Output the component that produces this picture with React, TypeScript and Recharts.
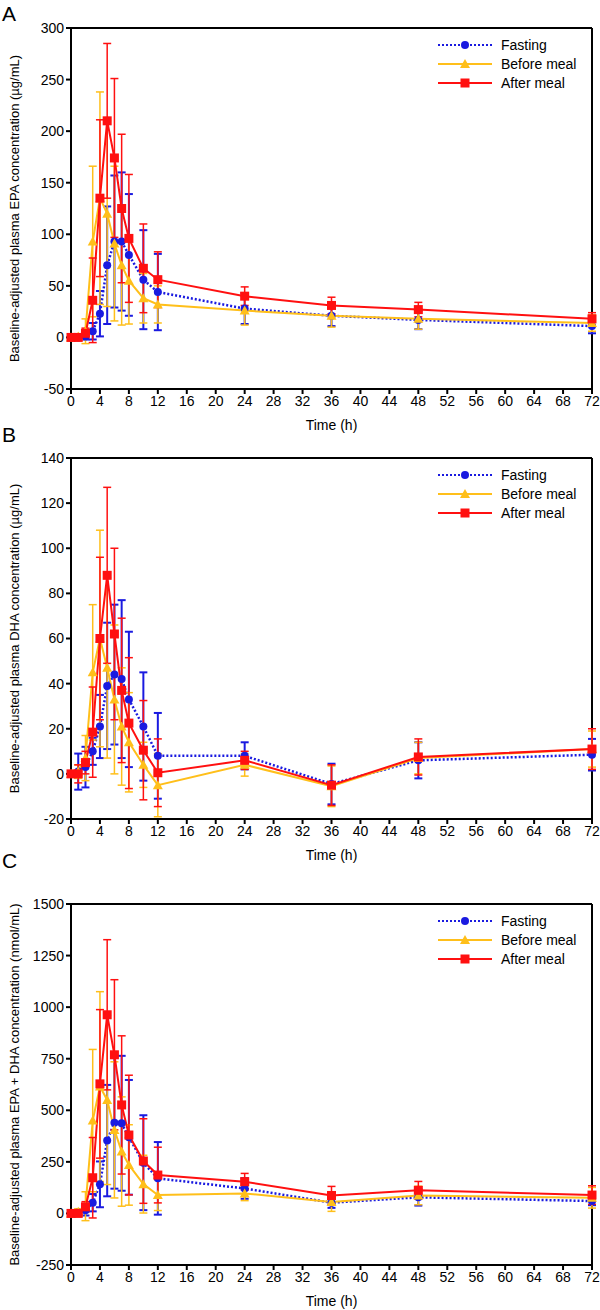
import React from "react";
import { LineChart, Line, XAxis, YAxis, ErrorBar, ReferenceLine, Label } from "recharts";

const times = [0, 1, 2, 3, 4, 5, 6, 7, 8, 10, 12, 24, 36, 48, 72];
const timeTicks = [0, 4, 8, 12, 16, 20, 24, 28, 32, 36, 40, 44, 48, 52, 56, 60, 64, 68, 72];

// A: EPA (µg/mL), mean and SD
const epaFasting = [0, 0, 1, 6, 23, 70, 93, 93, 80, 56, 44, 28, 21, 17, 11];
const epaFastingSd = [1, 1, 3, 8, 22, 57, 64, 67, 59, 48, 37, 15, 10, 9, 7];
const epaBefore = [0, 1, 6, 93, 135, 120, 91, 70, 55, 38, 32, 26, 21, 18, 14];
const epaBeforeSd = [1, 2, 12, 73, 103, 90, 75, 58, 42, 24, 18, 14, 11, 10, 8];
const epaAfter = [0, 0, 4, 36, 135, 210, 174, 125, 96, 67, 56, 40, 31, 27, 18];
const epaAfterSd = [1, 1, 5, 41, 76, 75, 77, 72, 62, 43, 27, 9, 8, 7, 6];
const epaTicks = [-50, 0, 50, 100, 150, 200, 250, 300];

// B: DHA (µg/mL)
const dhaFasting = [0, 1, 3, 10, 21, 39, 44, 42, 33, 21, 8, 8, -4.5, 6, 8.5];
const dhaFastingSd = [1, 8, 9, 6, 14, 28, 31, 35, 30, 24, 19, 6, 9, 8, 7];
const dhaBefore = [0, 1, 7, 45, 60, 47, 33, 21, 14, 4, -5, 4, -5.5, 7, 11];
const dhaBeforeSd = [1, 3, 10, 30, 48, 40, 33, 26, 22, 10, 14, 5, 9, 7, 8];
const dhaAfter = [0, 0, 5, 18.5, 60, 88, 62, 37, 22.5, 10.5, 0.5, 6, -5, 7.5, 11];
const dhaAfterSd = [1, 4, 5, 20, 36, 39, 38, 32, 29, 22, 15, 4, 9, 8, 9];
const dhaTicks = [-20, 0, 20, 40, 60, 80, 100, 120, 140];

// C: EPA + DHA (nmol/mL)
const sumFasting = [0, 5, 15, 52, 141, 353, 440, 437, 369, 246, 170, 121, 52, 78, 60];
const sumFastingSd = [5, 10, 25, 42, 111, 270, 320, 327, 278, 230, 176, 50, 25, 40, 20];
const sumBefore = [0, 8, 35, 450, 615, 550, 405, 300, 235, 142, 89, 97, 55, 87, 76];
const sumBeforeSd = [5, 15, 70, 345, 460, 410, 330, 265, 195, 140, 75, 35, 45, 45, 50];
const sumAfter = [0, 0, 32, 173, 628, 963, 769, 526, 380, 254, 186, 154, 87, 112, 89];
const sumAfterSd = [5, 5, 25, 195, 360, 364, 364, 335, 290, 205, 135, 40, 44, 43, 45];
const sumTicks = [-250, 0, 250, 500, 750, 1000, 1250, 1500];

const BLUE = "#1a1ae0";
const YELLOW = "#ffbf1a";
const RED = "#ff1010";
const FONT = '"Liberation Sans", Arial, sans-serif';

function CircleDot(props: any) {
  const { cx, cy, index } = props;
  if (cx == null || cy == null) return null;
  return <circle key={`c${index}`} cx={cx} cy={cy} r={4} fill={BLUE} />;
}

function TriangleDot(props: any) {
  const { cx, cy, index } = props;
  if (cx == null || cy == null) return null;
  return (
    <path
      key={`t${index}`}
      d={`M${cx},${cy - 5} L${cx + 5},${cy + 4} L${cx - 5},${cy + 4} Z`}
      fill={YELLOW}
    />
  );
}

function SquareDot(props: any) {
  const { cx, cy, index } = props;
  if (cx == null || cy == null) return null;
  return <rect key={`s${index}`} x={cx - 4.5} y={cy - 4.5} width={9} height={9} fill={RED} />;
}

function ChartLegend({ top }: { top: number }) {
  const items = [
    { label: "Fasting", color: BLUE, dash: "2 2", mark: "circle" },
    { label: "Before meal", color: YELLOW, dash: undefined, mark: "triangle" },
    { label: "After meal", color: RED, dash: undefined, mark: "square" },
  ];
  return (
    <div style={{ position: "absolute", left: 438, top, fontSize: 14, fontFamily: FONT }}>
      {items.map((it) => (
        <div key={it.label} style={{ display: "flex", alignItems: "center", height: 19 }}>
          <svg width={54} height={12}>
            <line x1={0} y1={6} x2={54} y2={6} stroke={it.color} strokeWidth={2} strokeDasharray={it.dash} />
            {it.mark === "circle" && <circle cx={27} cy={6} r={4} fill={it.color} />}
            {it.mark === "triangle" && <path d="M27,1 L32,10 L22,10 Z" fill={it.color} />}
            {it.mark === "square" && <rect x={22.5} y={1.5} width={9} height={9} fill={it.color} />}
          </svg>
          <span style={{ marginLeft: 9 }}>{it.label}</span>
        </div>
      ))}
    </div>
  );
}

type PanelProps = {
  top: number;
  letter: string;
  letterTop: number;
  yLabel: string;
  yTicks: number[];
  fasting: number[];
  fastingSd: number[];
  before: number[];
  beforeSd: number[];
  after: number[];
  afterSd: number[];
};

function Panel(p: PanelProps) {
  const data = times.map((t, i) => ({
    t,
    f: p.fasting[i],
    fSd: p.fastingSd[i],
    b: p.before[i],
    bSd: p.beforeSd[i],
    a: p.after[i],
    aSd: p.afterSd[i],
  }));
  const yMin = p.yTicks[0];
  const yMax = p.yTicks[p.yTicks.length - 1];
  const axisProps = { stroke: "#000", strokeWidth: 2 };

  return (
    <>
      <div
        style={{
          position: "absolute",
          left: 2,
          top: p.letterTop,
          fontSize: 21,
          lineHeight: "21px",
          fontFamily: FONT,
        }}
      >
        {p.letter}
      </div>
      <div style={{ position: "absolute", left: 0, top: p.top, width: 600, height: 437 }}>
        <LineChart width={600} height={437} data={data} margin={{ top: 28, right: 8, bottom: 0, left: 0 }}>
          <XAxis
            dataKey="t"
            type="number"
            domain={[0, 72]}
            ticks={timeTicks}
            interval={0}
            height={48}
            tickSize={5}
            tickMargin={2}
            axisLine={axisProps}
            tickLine={axisProps}
            tick={{ fill: "#000", fontSize: 14 }}
          >
            <Label
              content={(lp: any) => {
                const vb = lp.viewBox;
                return (
                  <text x={vb.x + vb.width / 2} y={vb.y + 41} textAnchor="middle" fontSize={14} fill="#000">
                    Time (h)
                  </text>
                );
              }}
            />
          </XAxis>
          <YAxis
            type="number"
            domain={[yMin, yMax]}
            ticks={p.yTicks}
            interval={0}
            allowDataOverflow
            width={71}
            tickSize={5}
            tickMargin={2}
            axisLine={axisProps}
            tickLine={axisProps}
            tick={{ fill: "#000", fontSize: 14 }}
          >
            <Label
              content={(lp: any) => {
                const vb = lp.viewBox;
                const cx = 14;
                const cy = vb.y + vb.height / 2;
                return (
                  <text
                    x={cx}
                    y={cy}
                    transform={`rotate(-90, ${cx}, ${cy})`}
                    textAnchor="middle"
                    dominantBaseline="central"
                    fontSize={13}
                    fill="#000"
                  >
                    {p.yLabel}
                  </text>
                );
              }}
            />
          </YAxis>
          <ReferenceLine y={yMax} stroke="#000" strokeWidth={2} />
          <ReferenceLine x={72} stroke="#000" strokeWidth={2} />
          <Line
            dataKey="f"
            stroke={BLUE}
            strokeWidth={2.5}
            strokeDasharray="2 2"
            dot={CircleDot}
            activeDot={false}
            isAnimationActive={false}
          >
            <ErrorBar dataKey="fSd" width={4} strokeWidth={2} stroke={BLUE} direction="y" />
          </Line>
          <Line
            dataKey="b"
            stroke={YELLOW}
            strokeWidth={2}
            dot={TriangleDot}
            activeDot={false}
            isAnimationActive={false}
          >
            <ErrorBar dataKey="bSd" width={4} strokeWidth={1.5} stroke={YELLOW} direction="y" />
          </Line>
          <Line
            dataKey="a"
            stroke={RED}
            strokeWidth={2}
            dot={SquareDot}
            activeDot={false}
            isAnimationActive={false}
          >
            <ErrorBar dataKey="aSd" width={4} strokeWidth={1.5} stroke={RED} direction="y" />
          </Line>
        </LineChart>
        <ChartLegend top={35} />
      </div>
    </>
  );
}

export default function App() {
  return (
    <div
      style={{
        position: "absolute",
        left: 0,
        top: 0,
        width: 600,
        height: 1310,
        background: "#fff",
        fontFamily: FONT,
        overflow: "hidden",
      }}
    >
      <Panel
        top={0}
        letter="A"
        letterTop={3}
        yLabel="Baseline-adjusted plasma EPA concentration (µg/mL)"
        yTicks={epaTicks}
        fasting={epaFasting}
        fastingSd={epaFastingSd}
        before={epaBefore}
        beforeSd={epaBeforeSd}
        after={epaAfter}
        afterSd={epaAfterSd}
      />
      <Panel
        top={430}
        letter="B"
        letterTop={424}
        yLabel="Baseline-adjusted plasma DHA concentration (µg/mL)"
        yTicks={dhaTicks}
        fasting={dhaFasting}
        fastingSd={dhaFastingSd}
        before={dhaBefore}
        beforeSd={dhaBeforeSd}
        after={dhaAfter}
        afterSd={dhaAfterSd}
      />
      <Panel
        top={876}
        letter="C"
        letterTop={850}
        yLabel="Baseline-adjusted plasma EPA + DHA concentration (nmol/mL)"
        yTicks={sumTicks}
        fasting={sumFasting}
        fastingSd={sumFastingSd}
        before={sumBefore}
        beforeSd={sumBeforeSd}
        after={sumAfter}
        afterSd={sumAfterSd}
      />
    </div>
  );
}
